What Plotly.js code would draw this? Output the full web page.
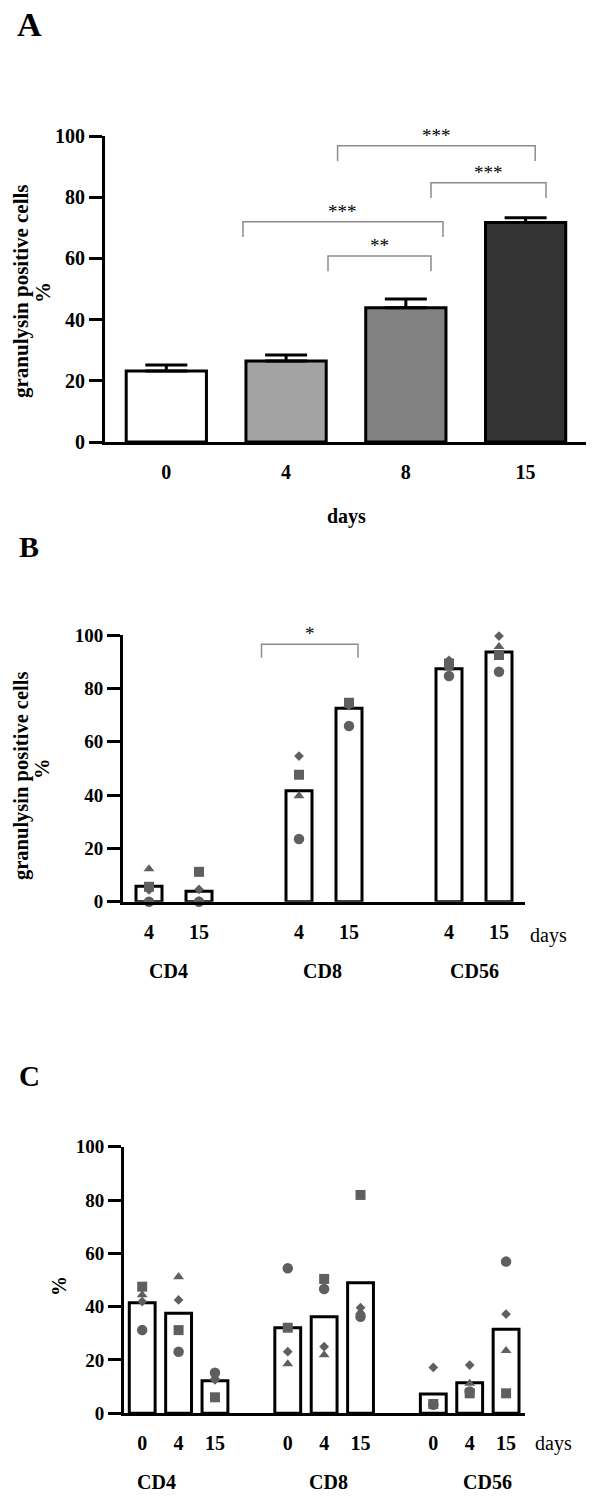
<!DOCTYPE html>
<html>
<head>
<meta charset="utf-8">
<script src="https://cdn.plot.ly/plotly-3.0.1.min.js"></script>
<style>
  html, body { margin: 0; padding: 0; background: #fff; }
  #chart { width: 600px; height: 1497px; }
</style>
</head>
<body>
<div id="chart"></div>
<script>
// Panel A: granulysin positive cells (mean + SEM) per day
var daysA = ['0', '4', '8', '15'];
var meanA = [23.2, 26.5, 43.9, 71.7];
var semA = [2.0, 1.9, 2.8, 1.6];

// Panel A significance brackets (category units, %)
var bracketAFrom = [1.43, 2.21, 0.64, 1.35];
var bracketATo = [3.08, 3.17, 2.31, 2.21];
var bracketATop = [96.8, 84.7, 72.0, 60.8];
var bracketAStars = ['***', '***', '***', '**'];

// Panel B: CD4 / CD8 / CD56 at days 4 and 15
var groups = ['CD4', 'CD8', 'CD56'];
var posB = [0, 1, 3, 4, 6, 7];
var daysB = ['4', '15', '4', '15', '4', '15'];
var meanB = [5.8, 3.9, 41.6, 72.5, 87.3, 93.6];
var circleB = [0, 0, 23.5, 65.9, 84.6, 86.2];
var squareB = [5.6, 11.2, 47.6, 74.6, 89.3, 92.5];
var triangleB = [12.3, 0.4, 39.7, 74.0, 87.5, 95.6];
var diamondB = [4.4, 4.6, 54.6, 73.5, 90.5, 99.6];

var bracketBFrom = [2.25];
var bracketBTo = [4.18];
var bracketBTop = [96.5];
var bracketBStars = ['*'];

// Panel C: CD4 / CD8 / CD56 at days 0, 4 and 15
var posC = [0, 1, 2, 4, 5, 6, 8, 9, 10];
var daysC = ['0', '4', '15', '0', '4', '15', '0', '4', '15'];
var meanC = [41.5, 37.5, 12.2, 32.1, 36.2, 49.0, 7.2, 11.5, 31.5];
var circleC = [31.2, 23.1, 15.2, 54.4, 46.6, 36.2, 3.2, 8.2, 56.9];
var squareC = [47.5, 31.2, 6.0, 32.1, 50.4, 81.9, 3.5, 7.5, 7.5];
var triangleC = [44.4, 51.2, 13.5, 18.5, 21.9, 38.0, 3.8, 11.2, 23.5];
var diamondC = [41.9, 42.5, 12.5, 23.1, 25.0, 39.6, 17.2, 18.1, 37.2];

var serif = 'Liberation Serif, Times New Roman, serif';
var dotGray = '#5f5f5f';
var barFillA = ['#ffffff', '#a3a3a3', '#828282', '#333333'];

function fnt(size, bold) {
  return {family: serif, size: size, color: '#000', weight: bold ? 'bold' : 'normal'};
}
// page pixel -> paper fraction
function px(x) { return x / 600; }
function py(y) { return 1 - y / 1497; }

var data = [];

data.push({
  type: 'bar', x: daysA.map(function (d, i) { return i; }), y: meanA, width: 0.67,
  marker: {color: barFillA, line: {color: '#000', width: 3}},
  error_y: {type: 'data', symmetric: false, array: semA, arrayminus: semA.map(function () { return 0; }),
            color: '#000', thickness: 3, width: 21},
  xaxis: 'x', yaxis: 'y', hoverinfo: 'y'
});

function dots(x, y, symbol, size, xa, ya) {
  return {type: 'scatter', mode: 'markers', x: x, y: y, cliponaxis: false,
          marker: {symbol: symbol, size: size, color: dotGray},
          xaxis: xa, yaxis: ya, hoverinfo: 'y'};
}

data.push({type: 'bar', x: posB, y: meanB, width: 0.52,
  marker: {color: '#fff', line: {color: '#000', width: 3}}, xaxis: 'x2', yaxis: 'y2', hoverinfo: 'y'});
data.push(dots(posB, diamondB, 'diamond', 7.5, 'x2', 'y2'));
data.push(dots(posB, triangleB, 'triangle-up', 9.5, 'x2', 'y2'));
data.push(dots(posB, circleB, 'circle', 10.5, 'x2', 'y2'));
data.push(dots(posB, squareB, 'square', 10, 'x2', 'y2'));

data.push({type: 'bar', x: posC, y: meanC, width: 0.71,
  marker: {color: '#fff', line: {color: '#000', width: 3}}, xaxis: 'x3', yaxis: 'y3', hoverinfo: 'y'});
data.push(dots(posC, diamondC, 'diamond', 7.5, 'x3', 'y3'));
data.push(dots(posC, triangleC, 'triangle-up', 9.5, 'x3', 'y3'));
data.push(dots(posC, circleC, 'circle', 10.5, 'x3', 'y3'));
data.push(dots(posC, squareC, 'square', 10, 'x3', 'y3'));

var shapes = [];
var annotations = [];

function brackets(from, to, top, stars, xr, yr) {
  for (var i = 0; i < from.length; i++) {
    var leg = top[i] - 5;
    shapes.push({type: 'path', xref: xr, yref: yr,
      path: 'M' + from[i] + ',' + leg + ' L' + from[i] + ',' + top[i] +
            ' L' + to[i] + ',' + top[i] + ' L' + to[i] + ',' + leg,
      line: {color: '#8c8c8c', width: 1.5}});
    annotations.push({xref: xr, yref: yr, x: (from[i] + to[i]) / 2, y: top[i],
      text: stars[i], showarrow: false, yanchor: 'bottom', yshift: -2, font: fnt(19, false)});
  }
}
brackets(bracketAFrom, bracketATo, bracketATop, bracketAStars, 'x', 'y');
brackets(bracketBFrom, bracketBTo, bracketBTop, bracketBStars, 'x2', 'y2');

function label(text, x, y, size, bold, angle) {
  annotations.push({xref: 'paper', yref: 'paper', x: px(x), y: py(y), text: text,
    showarrow: false, xanchor: 'center', yanchor: 'middle', textangle: angle || 0,
    font: fnt(size, bold)});
}

label('A', 29, 24, 34, true);
label('granulysin positive cells', 21, 291, 21, true, -90);
label('%', 43, 293, 21, true, -90);
label('days', 346, 517, 20, true);

label('B', 29, 547, 30, true);
label('granulysin positive cells', 21, 776, 20.5, true, -90);
label('%', 42, 769, 20.5, true, -90);
label('days', 548, 935, 20, false);

label('C', 29, 1076, 29, true);
label('%', 59, 1286, 20, true, -90);
label('days', 553, 1443, 20, false);

// group names under panels B and C
var groupXB = [0.39, 3.46, 6.51];
var groupXC = [0.39, 5.13, 9.49];
groups.forEach(function (g, i) {
  annotations.push({xref: 'x2', yref: 'paper', x: groupXB[i], y: py(971), text: g,
    showarrow: false, yanchor: 'middle', font: fnt(20, true)});
  annotations.push({xref: 'x3', yref: 'paper', x: groupXC[i], y: py(1482), text: g,
    showarrow: false, yanchor: 'middle', font: fnt(20, true)});
});

function xAxis(domain, range, vals, text, anchor) {
  return {domain: domain, range: range, tickmode: 'array', tickvals: vals, ticktext: text,
    ticks: '', showline: true, linewidth: 3, linecolor: '#000', showgrid: false,
    zeroline: false, tickfont: fnt(20, true), ticklabelstandoff: 10, anchor: anchor, fixedrange: true};
}
function yAxis(domain, anchor, size) {
  return {domain: domain, range: [0, 100], tickmode: 'array', tickvals: [0, 20, 40, 60, 80, 100],
    ticks: 'outside', ticklen: 13, tickwidth: 3, tickcolor: '#000',
    showline: true, linewidth: 3, linecolor: '#000', showgrid: false, zeroline: false,
    tickfont: fnt(size, true), anchor: anchor, fixedrange: true};
}

var layout = {
  width: 600, height: 1497,
  margin: {l: 0, r: 0, t: 0, b: 0},
  paper_bgcolor: '#fff', plot_bgcolor: '#fff',
  showlegend: false,
  xaxis: xAxis([px(105), px(585.5)], [-0.512, 3.5], [0, 1, 2, 3], daysA, 'y'),
  yaxis: yAxis([py(442), py(136)], 'x', 20),
  xaxis2: xAxis([px(123), px(525)], [-0.52, 7.52], posB, daysB, 'y2'),
  yaxis2: yAxis([py(901.7), py(635)], 'x2', 19),
  xaxis3: xAxis([px(124), px(525)], [-0.5, 10.52], posC, daysC, 'y3'),
  yaxis3: yAxis([py(1413.3), py(1146.7)], 'x3', 19),
  shapes: shapes,
  annotations: annotations
};

Plotly.newPlot('chart', data, layout, {displayModeBar: false, staticPlot: true});
</script>
</body>
</html>
